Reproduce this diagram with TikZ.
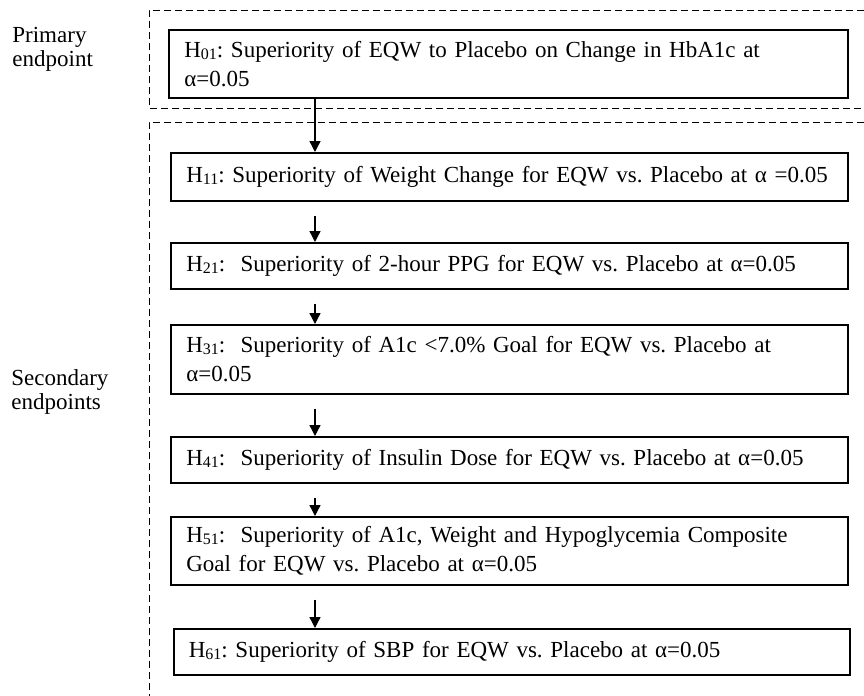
\documentclass[tikz,border=0pt]{standalone}
\usepackage{fontspec}
\setmainfont{Liberation Serif}
\usetikzlibrary{arrows.meta}
\newcommand{\Hs}[1]{H{\fontsize{8pt}{8pt}\selectfont\raisebox{-0.25ex}{#1}}}
\begin{document}
\frenchspacing
\begin{tikzpicture}[x=0.5pt,y=-0.5pt,
  hbox/.style={draw,line width=0.8pt,anchor=north west,align=left,inner xsep=7.5pt,
     font=\fontsize{11.5pt}{14.5pt}\selectfont\frenchspacing},
  lbl/.style={anchor=north west,align=left,inner sep=0pt,
     font=\fontsize{11.5pt}{12pt}\selectfont},
  dashbox/.style={line width=0.5pt,dash pattern=on 3.5pt off 2pt},
  arr/.style={line width=0.7pt,-{Triangle[length=5.5pt,width=5.5pt]}},
  gap/.style={shorten <=7pt}]
\useasboundingbox (0,0) rectangle (864,696);
% dashed group frames
\draw[dashbox] (864,10) -- (149,10) -- (149,108) -- (864,108);
\draw[dashbox] (864,122) -- (149,122) -- (149,696);
% side labels
\node[lbl] (prim) at (12,27) {Primary\\endpoint};
\node[lbl] (sec) at (11,369) {Secondary\\endpoints};
% hypothesis boxes
\node[hbox,minimum width=339.5pt,minimum height=34pt,text width=324pt] (h0) at (168,29)
  {\Hs{01}: Superiority of EQW to Placebo on Change in HbA1c at\\ α=0.05};
\node[hbox,minimum width=338.5pt,minimum height=24pt,text width=323pt] (h1) at (170,152)
  {\Hs{11}: Superiority of Weight Change for EQW vs. Placebo at α =0.05};
\node[hbox,minimum width=338.5pt,minimum height=23pt,text width=323pt] (h2) at (170,242)
  {\Hs{21}:\ \ Superiority of 2-hour PPG for EQW vs. Placebo at α=0.05};
\node[hbox,minimum width=338.5pt,minimum height=34.5pt,text width=323pt] (h3) at (170,324)
  {\Hs{31}:\ \ Superiority of A1c <7.0\% Goal for EQW vs. Placebo at\\ α=0.05};
\node[hbox,minimum width=338.5pt,minimum height=23pt,text width=323pt] (h4) at (170,436)
  {\Hs{41}:\ \ Superiority of Insulin Dose for EQW vs. Placebo at α=0.05};
\node[hbox,minimum width=338.5pt,minimum height=34pt,text width=323pt] (h5) at (170,516)
  {\Hs{51}:\ \ Superiority of A1c, Weight and Hypoglycemia Composite\\ Goal for EQW vs. Placebo at α=0.05};
\node[hbox,minimum width=338pt,minimum height=23pt,text width=323pt] (h6) at (173,628)
  {\Hs{61}: Superiority of SBP for EQW vs. Placebo at α=0.05};
% arrows
\coordinate (ax) at (315,0);
\draw[arr] (h0.south -| ax) -- (h1.north -| ax);
\draw[arr,gap] (h1.south -| ax) -- (h2.north -| ax);
\draw[arr,gap] (h2.south -| ax) -- (h3.north -| ax);
\draw[arr,gap] (h3.south -| ax) -- (h4.north -| ax);
\draw[arr,gap] (h4.south -| ax) -- (h5.north -| ax);
\draw[arr,gap] (h5.south -| ax) -- (h6.north -| ax);
\end{tikzpicture}
\end{document}
